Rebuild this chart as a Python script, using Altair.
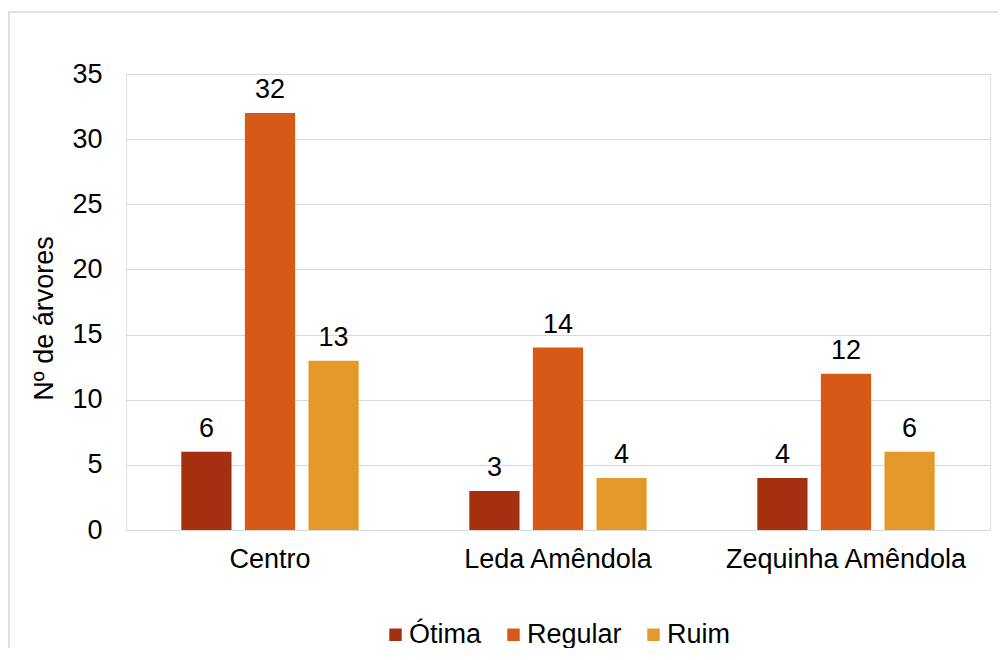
import altair as alt
import pandas as pd

bairros = ["Centro", "Leda Amêndola", "Zequinha Amêndola"]
estados = ["Ótima", "Regular", "Ruim"]
otima = [6, 3, 4]
regular = [32, 14, 12]
ruim = [13, 4, 6]
cores = ["#A42F11", "#D65917", "#E39A2A"]

rows = []
for i, b in enumerate(bairros):
    for e, vals in zip(estados, [otima, regular, ruim]):
        rows.append({"bairro": b, "estado": e, "valor": vals[i]})
df = pd.DataFrame(rows)

FONT = "Liberation Sans"
FS = 27
W, H = 864, 456

x = alt.X("bairro:N", sort=bairros, title=None,
          scale=alt.Scale(paddingInner=0, paddingOuter=0),
          axis=alt.Axis(labelAngle=0, labelFontSize=FS, labelColor="#000000", labelLimit=0,
                        labelPadding=16, ticks=False, domain=False, labelFont=FONT))
xo = alt.XOffset("estado:N", sort=estados,
                 scale=alt.Scale(paddingInner=0.21, paddingOuter=0.87))
y = alt.Y("valor:Q", title="Nº de árvores",
          scale=alt.Scale(domain=[0, 35]),
          axis=alt.Axis(values=[0, 5, 10, 15, 20, 25, 30, 35], labelFontSize=FS,
                        labelColor="#000000", labelPadding=24, ticks=False, domain=False,
                        gridColor="#d9d9d9", titleFontSize=27, titleFont=FONT,
                        titleFontWeight="normal", titleColor="#000000", titlePadding=13,
                        titleY=244, labelFont=FONT))
color = alt.Color("estado:N", sort=estados,
                  scale=alt.Scale(domain=estados, range=cores),
                  legend=alt.Legend(title=None, orient="none", direction="horizontal",
                                    legendX=256, legendY=547, symbolType="square",
                                    symbolSize=155, symbolStrokeWidth=0, labelLimit=0,
                                    labelFontSize=FS, labelFont=FONT, labelColor="#000000",
                                    labelOffset=0, columnPadding=18))

base = alt.Chart(df)
bars = base.mark_bar().encode(x=x, xOffset=xo, y=y, color=color)
labels = base.mark_text(fontSize=FS, font=FONT, color="#000000", baseline="alphabetic", dy=-15).encode(
    x=x, xOffset=xo, y=y, text="valor:Q")

frame = alt.Chart(pd.DataFrame({"a": [0]})).mark_rect(
    fill=None, stroke="#d9d9d9", strokeWidth=1.5).encode(
    x=alt.value(-117), x2=alt.value(W + 12), y=alt.value(-62), y2=alt.value(H + 140))

chart = alt.layer(frame, bars, labels).properties(
    width=W, height=H,
    autosize=alt.AutoSizeParams(type="none"),
    padding={"left": 118, "top": 66, "right": 8, "bottom": 118},
).configure_view(stroke=None).configure(font=FONT, background="white")

chart.save("out.html", embed_options={"renderer": "svg", "actions": False})
